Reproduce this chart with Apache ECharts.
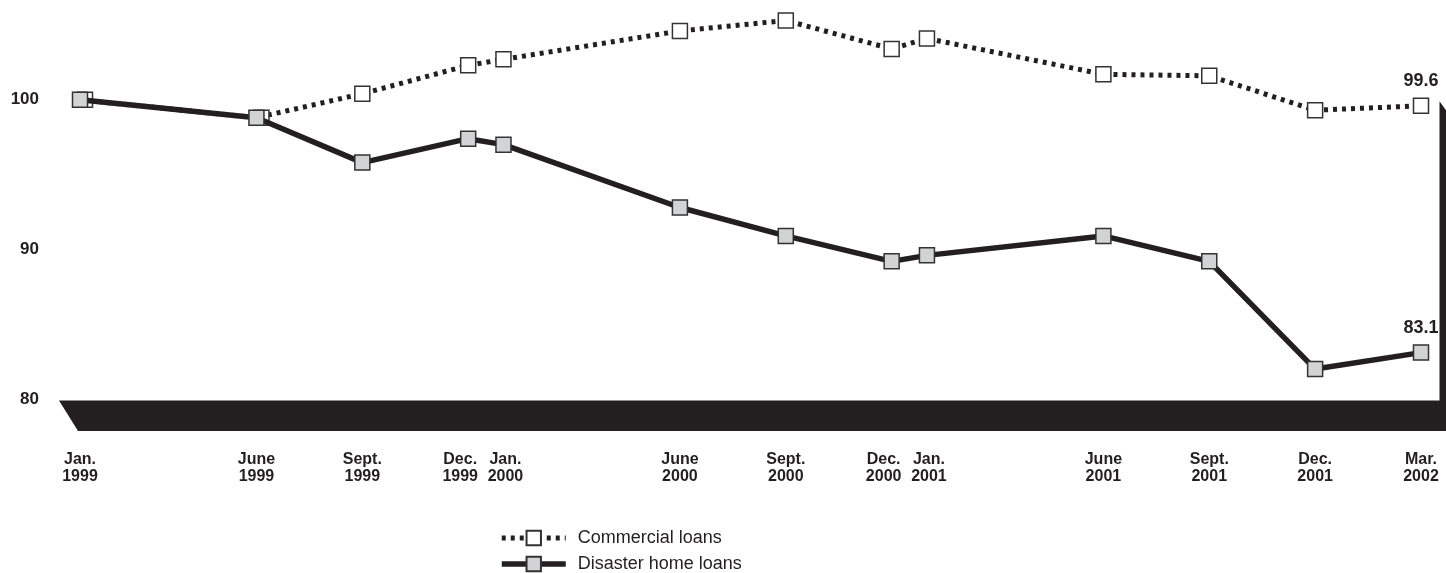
<!DOCTYPE html>
<html><head><meta charset="utf-8">
<script src="https://cdn.jsdelivr.net/npm/echarts@6/dist/echarts.min.js"></script>
<style>html,body{margin:0;padding:0;background:#fff}#c{width:1446px;height:573px}</style>
</head><body><div id="c"></div>
<script>
// months since Jan. 1999
const months = [0, 5, 8, 11, 12, 17, 20, 23, 24, 29, 32, 35, 38];
const tickLabels = ['Jan.\n1999','June\n1999','Sept.\n1999','Dec.\n1999','Jan.\n2000','June\n2000','Sept.\n2000','Dec.\n2000','Jan.\n2001','June\n2001','Sept.\n2001','Dec.\n2001','Mar.\n2002'];
const commercial = [100, 98.8, 100.4, 102.3, 102.7, 104.6, 105.3, 103.4, 104.1, 101.7, 101.6, 99.3, 99.6];
const disaster = [100, 98.8, 95.8, 97.4, 97.0, 92.8, 90.9, 89.2, 89.6, 90.9, 89.2, 82.0, 83.1];
const yTicks = [80, 90, 100];
const seriesNames = ['Commercial loans', 'Disaster home loans'];

const INK = '#231f20';
const FONT = 'Liberation Sans, Arial, Helvetica, sans-serif';
const last = months.length - 1;

function build(vals, other) {
  return months.map((m, i) => {
    const d = { value: [m, vals[i]] };
    if (other && other[i] === vals[i]) d.symbolOffset = [5, 0];
    return d;
  });
}

// labels of adjacent months (Dec./Jan.) are nudged apart
function labelFor(v) {
  const i = months.indexOf(v);
  if (i < 0) return '';
  const lines = tickLabels[i].split('\n');
  let style = 'n';
  if (i + 1 < months.length && months[i + 1] - v === 1) style = 'l';
  else if (i > 0 && v - months[i - 1] === 1) style = 'r';
  return lines.map(s => '{' + style + '|' + s + '}').join('\n');
}

const dotted = { color: INK, width: 5, type: [4, 5] };
const solid = { color: INK, width: 5.5 };

const chart = echarts.init(document.getElementById('c'), null, { renderer: 'canvas' });
const option = {
  animation: false,
  backgroundColor: '#fff',
  textStyle: { fontFamily: FONT, color: INK },
  grid: { left: 80, right: 25, top: 10, bottom: 174, containLabel: false },
  xAxis: {
    type: 'value', min: 0, max: 38,
    axisLine: { show: false }, axisTick: { show: false }, splitLine: { show: false },
    axisLabel: {
      customValues: months,
      margin: 52,
      fontFamily: FONT, fontWeight: 'bold', fontSize: 16, lineHeight: 17, color: INK,
      formatter: labelFor,
      rich: {
        n: { fontFamily: FONT, fontWeight: 'bold', fontSize: 16, lineHeight: 17, color: INK },
        l: { fontFamily: FONT, fontWeight: 'bold', fontSize: 16, lineHeight: 17, color: INK, padding: [0, 16, 0, 0] },
        r: { fontFamily: FONT, fontWeight: 'bold', fontSize: 16, lineHeight: 17, color: INK, padding: [0, 0, 0, 4] }
      }
    }
  },
  yAxis: {
    type: 'value', min: 80, max: 106,
    axisLine: { show: false }, axisTick: { show: false }, splitLine: { show: false },
    axisLabel: {
      customValues: yTicks,
      margin: 41,
      fontFamily: FONT, fontWeight: 'bold', fontSize: 17, color: INK
    }
  },
  legend: {
    orient: 'vertical', left: 499, top: 529, padding: 0,
    itemWidth: 64, itemHeight: 18, itemGap: 8,
    textStyle: { fontFamily: FONT, fontSize: 18, lineHeight: 18, color: INK, padding: [0, 0, 0, 7] },
    data: [
      { name: seriesNames[0], lineStyle: dotted },
      { name: seriesNames[1], lineStyle: solid }
    ]
  },
  series: [
    {
      name: seriesNames[0], type: 'line', clip: false, z: 2,
      data: build(commercial, disaster),
      symbol: 'rect', symbolSize: 15,
      lineStyle: dotted,
      itemStyle: { color: '#fff', borderColor: '#333', borderWidth: 1.5 },
      label: {
        show: true, position: 'top', distance: 7,
        fontFamily: FONT, fontWeight: 'bold', fontSize: 18, color: INK,
        formatter: p => p.dataIndex === last ? commercial[last].toFixed(1) : ''
      }
    },
    {
      name: seriesNames[1], type: 'line', clip: false, z: 3,
      data: build(disaster),
      symbol: 'rect', symbolSize: 15,
      lineStyle: solid,
      itemStyle: { color: '#d1d3d4', borderColor: '#333', borderWidth: 1.5 },
      label: {
        show: true, position: 'top', distance: 7,
        fontFamily: FONT, fontWeight: 'bold', fontSize: 18, color: INK,
        formatter: p => p.dataIndex === last ? disaster[last].toFixed(1) : ''
      }
    }
  ]
};
chart.setOption(option);

// 3D floor and right wall, positioned from the axis scales
const p0 = chart.convertToPixel({ gridIndex: 0 }, [0, 80]);
const pEnd = chart.convertToPixel({ gridIndex: 0 }, [38, 100]);
const floorTop = p0[1] + 1.5;
const floorBot = floorTop + 30.5;
const wallX = pEnd[0] + 18.5;
const wallTop = pEnd[1] + 1.5;
chart.setOption({
  graphic: [{
    type: 'polygon', z: 1, silent: true,
    shape: { points: [
      [p0[0] - 21, floorTop], [wallX, floorTop], [wallX, wallTop],
      [1446, wallTop + 9], [1446, floorBot], [p0[0] - 2, floorBot]
    ] },
    style: { fill: INK }
  }]
});
</script>
</body></html>
